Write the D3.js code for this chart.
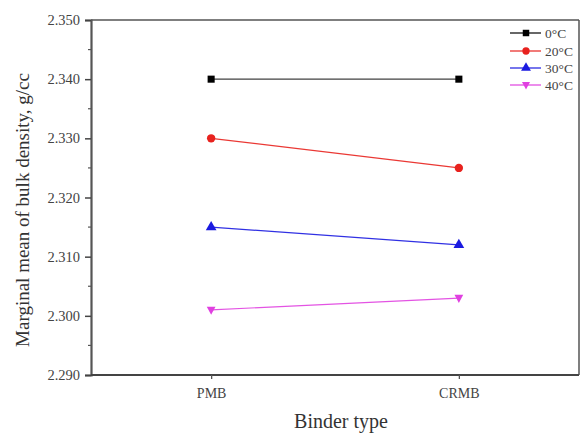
<!DOCTYPE html>
<html><head><meta charset="utf-8">
<script src="https://cdn.jsdelivr.net/npm/d3@7"></script>
<style>body{margin:0;background:#fff}svg{display:block}text{font-family:"Liberation Serif","Times New Roman",serif}</style>
</head><body><svg id="c" width="581" height="433"></svg>
<script>
const categories = ["PMB", "CRMB"];
const seriesNames = ["0°C", "20°C", "30°C", "40°C"];
const series0 = [2.340, 2.340];
const series20 = [2.330, 2.325];
const series30 = [2.315, 2.312];
const series40 = [2.301, 2.303];
const yTicks = [2.290, 2.300, 2.310, 2.320, 2.330, 2.340, 2.350];
const colors = ["#000000", "#e8221e", "#1a1ae0", "#e040e0"];
const symbols = [d3.symbolSquare, d3.symbolCircle, d3.symbolTriangle, "down"];
const allSeries = [series0, series20, series30, series40];

const svg = d3.select("#c");
const L = 91, R = 579, T = 20, B = 375;
const x = d3.scalePoint().domain(categories).range([L, R]).padding(0.485);
const y = d3.scaleLinear().domain([2.290, 2.350]).range([B, T]);

// frame
svg.append("line").attr("x1", L).attr("x2", R).attr("y1", T).attr("y2", T).attr("stroke", "#555").attr("stroke-width", 1.5);
svg.append("line").attr("x1", R).attr("x2", R).attr("y1", T).attr("y2", B).attr("stroke", "#555").attr("stroke-width", 1.5);

// y axis
const yAxis = d3.axisLeft(y).tickValues(yTicks).tickFormat(d3.format(".3f")).tickSize(6).tickPadding(5);
const gy = svg.append("g").attr("transform", `translate(${L},0)`).call(yAxis);
gy.select(".domain").attr("stroke", "#555").attr("stroke-width", 2.2);
gy.selectAll(".tick line").attr("stroke", "#444").attr("stroke-width", 1.5);
gy.selectAll("text").attr("font-size", 14.5).attr("fill", "#444").style("font-family", "Liberation Serif");
// minor ticks
const minor = d3.range(0, 6).map(i => 2.295 + i * 0.01);
svg.append("g").selectAll("line").data(minor).join("line")
  .attr("x1", L - 3).attr("x2", L).attr("y1", d => y(d)).attr("y2", d => y(d))
  .attr("stroke", "#555").attr("stroke-width", 1.2);

// x axis
const xAxis = d3.axisBottom(x).tickSize(4).tickPadding(9);
const gx = svg.append("g").attr("transform", `translate(0,${B})`).call(xAxis);
gx.select(".domain").attr("stroke", "#444").attr("stroke-width", 2).attr("d", `M${L},0H${R}`);
gx.selectAll(".tick line").attr("stroke", "#555").attr("stroke-width", 1.3);
gx.selectAll("text").attr("font-size", 14).attr("fill", "#444").style("font-family", "Liberation Serif");

// titles
svg.append("text").attr("x", 341).attr("y", 428).attr("text-anchor", "middle").attr("font-size", 20).attr("fill", "#333").text("Binder type");
svg.append("text").attr("transform", "translate(29,210) rotate(-90)").attr("text-anchor", "middle").attr("font-size", 19).attr("fill", "#333").text("Marginal mean of bulk density, g/cc");

function sym(i, size) {
  if (symbols[i] === "down") { const s = Math.sqrt(size) * 0.62; return `M0,${s * 1.1}L${-s},${-s * 0.75}L${s},${-s * 0.75}Z`; }
  return d3.symbol().type(symbols[i]).size(size)();
}
const line = d3.line().x((d, j) => x(categories[j])).y(d => y(d));
allSeries.forEach((s, i) => {
  svg.append("path").attr("d", line(s)).attr("fill", "none").attr("stroke", colors[i]).attr("stroke-width", 1.2).attr("opacity", i === 0 ? 0.75 : 0.9);
  svg.append("g").selectAll("path").data(s).join("path")
    .attr("transform", (d, j) => `translate(${x(categories[j])},${y(d)})`)
    .attr("d", sym(i, i === 1 ? 55 : 50)).attr("fill", colors[i]);
});

// legend
const lg = svg.append("g");
const rowsY = [33, 51, 68, 85];
seriesNames.forEach((n, i) => {
  const yy = rowsY[i];
  lg.append("line").attr("x1", 510).attr("x2", 541).attr("y1", yy).attr("y2", yy).attr("stroke", colors[i]).attr("stroke-width", 1.2);
  lg.append("path").attr("transform", `translate(526,${yy})`).attr("d", sym(i, 42)).attr("fill", colors[i]);
  lg.append("text").attr("x", 545).attr("y", yy + 4.5).attr("font-size", 13.5).attr("fill", "#444").text(n);
});
</script></body></html>
